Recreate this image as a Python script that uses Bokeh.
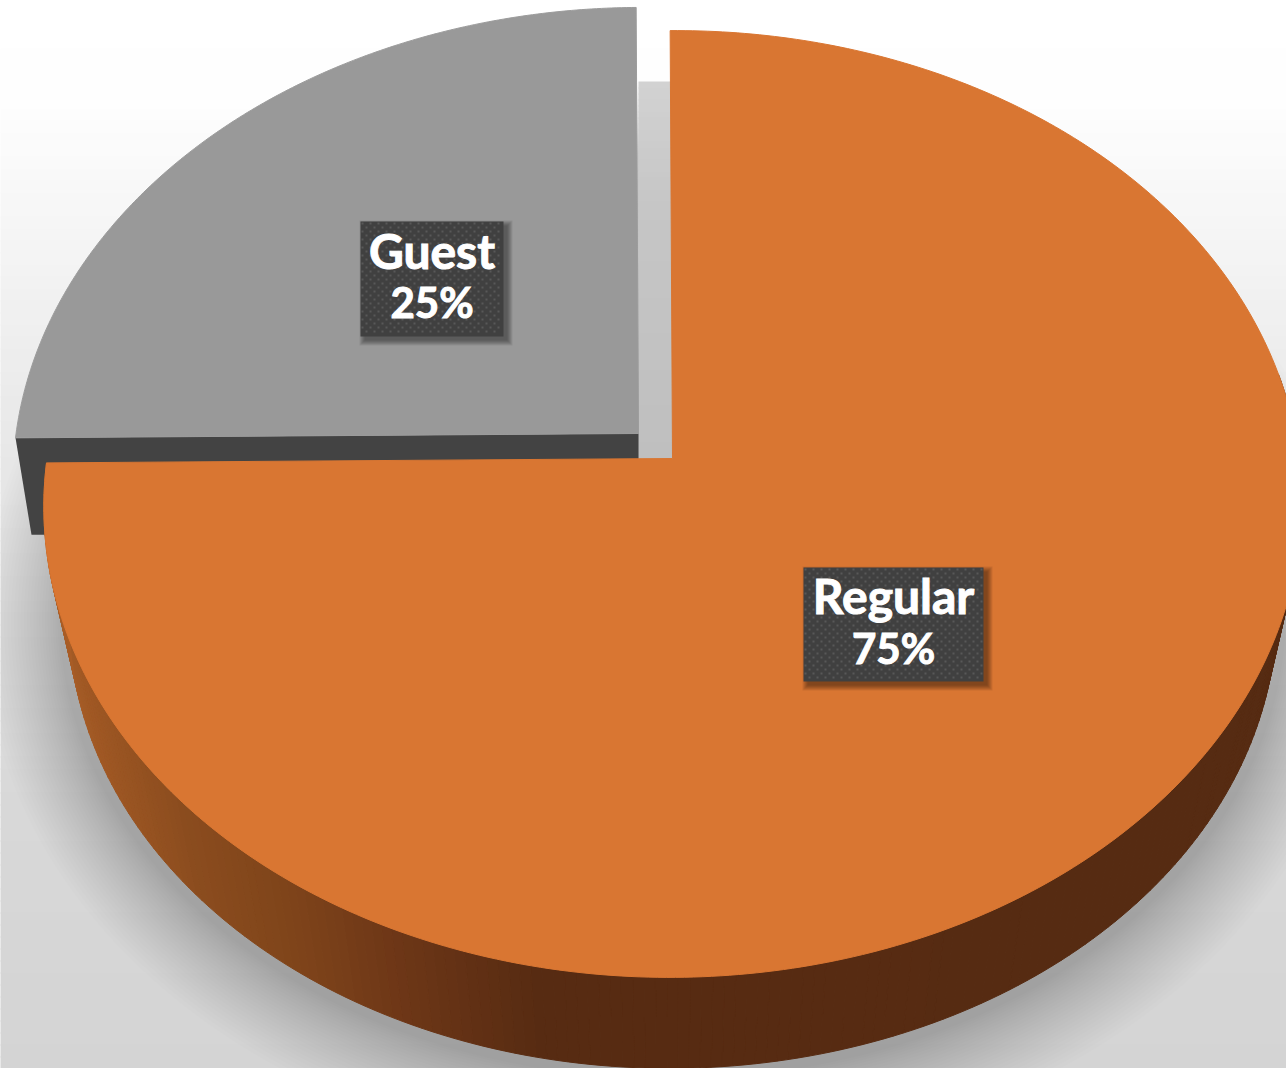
import math
from bokeh.plotting import figure
from bokeh.models import Range1d
from bokeh.core.properties import value
from bokeh.embed import file_html
from bokeh.resources import INLINE

categories = ["Regular", "Guest"]
shares = [75, 25]
slice_colors = ["#D97632", "#999999"]
box_color = "#404040"
dot_color = "#585858"
text_color = "#FFFFFF"
label_centers = [(893, 624), (431.5, 278.5)]
label_sizes = [(180, 114), (143, 115)]

p = figure(width=1286, height=1068, x_range=Range1d(0, 1286), y_range=Range1d(1068, 0),
           output_backend="svg", toolbar_location=None, min_border=0)
p.axis.visible = False
p.grid.visible = False
p.outline_line_color = None
p.background_fill_color = "#FFFFFF"
p.border_fill_color = None

TILT = 0.0055
PERSP = 0.0961


def project(deg, x0, y0, rx, ry):
    t = math.radians(deg)
    u, v = math.sin(t), -math.cos(t)
    w = 1 - PERSP * v
    x, y = x0 + rx * u / w, y0 + ry * v / w
    return x + TILT * (y - y0), y + 0.007 * (x0 - x)


def arc(a0, a1, x0, y0, rx, ry, n=180):
    pts = [project(a0 + (a1 - a0) * i / n, x0, y0, rx, ry) for i in range(n + 1)]
    return [q[0] for q in pts], [q[1] for q in pts]


def mix(c0, c1, f):
    a = [int(c0[i:i + 2], 16) for i in (1, 3, 5)]
    b = [int(c1[i:i + 2], 16) for i in (1, 3, 5)]
    return "#%02X%02X%02X" % tuple(round(a[i] + (b[i] - a[i]) * f) for i in range(3))


def ramp(x, stops):
    if x <= stops[0][0]:
        return stops[0][1]
    for (x0, c0), (x1, c1) in zip(stops, stops[1:]):
        if x <= x1:
            return mix(c0, c1, (x - x0) / (x1 - x0))
    return stops[-1][1]


# slice angles come from the values (clockwise from twelve o'clock)
total = sum(shares)
a_reg = (0, 360 * shares[0] / total)
a_gue = (a_reg[1], 360)

# geometry of the tilted discs
REG = dict(x0=672, y0=458, rx=626, ry=469)
REG_B = dict(x0=672, y0=570, rx=601, ry=450)
GUE = dict(x0=638, y0=433, rx=623, ry=467)
GUE_B = dict(x0=638, y0=530, rx=607, ry=450)

# page background
bg_stops = [(0, "#FFFFFF"), (90, "#FEFEFE"), (400, "#EAEAEA"), (800, "#D8D8D8"), (1068, "#D4D4D4")]
for y in range(0, 1068, 12):
    c = ramp(y, bg_stops)
    p.quad(left=-6, right=1292, top=y, bottom=y + 13, fill_color=c, line_color=None)

# soft shadow of the pie: full discs, widest and faintest first
N = 26
for k in range(N):
    d = 78 * (1 - k / N) ** 1.2 + 8
    xs, ys = arc(0, 360, REG_B["x0"], REG_B["y0"], REG_B["rx"] + d, REG_B["ry"] + d, n=240)
    p.patch(xs, ys, fill_color="#000000", fill_alpha=0.0085, line_color=None)

# lit back wall in the gap between the slices
for y in range(81, 458, 6):
    c = ramp(y, [(81, "#D2D2D2"), (200, "#C6C6C6"), (458, "#BFBFBF")])
    p.quad(left=638, right=672, top=y, bottom=min(y + 7, 459), fill_color=c, line_color=None)

# Guest slice: wall then top
gl = project(a_gue[0], **GUE)
gb = project(a_gue[0], **GUE_B)
p.patch([gl[0], GUE["x0"], GUE["x0"], gb[0]], [gl[1], GUE["y0"], gb[1], gb[1]],
        fill_color="#434343", line_color=None)
xs, ys = arc(a_gue[0], a_gue[1], **GUE)
p.patch(xs + [GUE["x0"]], ys + [GUE["y0"]], fill_color=slice_colors[1], line_color="#9C9C9C", line_width=1)

# Regular slice: shaded outer wall then top
wall_stops = [(45, "#B2622A"), (90, "#A35A25"), (200, "#8B4C1E"), (300, "#7F441A"),
              (400, "#6E3717"), (540, "#572B12"), (1300, "#562B12")]
n_wall = 200
for i in range(n_wall):
    a0 = 80 + 190 * i / n_wall
    a1 = 80 + 190 * (i + 1) / n_wall
    t0, t1 = project(a0, **REG), project(a1, **REG)
    b0, b1 = project(a0, **REG_B), project(a1, **REG_B)
    c = ramp((b0[0] + b1[0]) / 2, wall_stops)
    p.patch([t0[0], t1[0], b1[0], b0[0]], [t0[1], t1[1], b1[1], b0[1]],
            fill_color=c, line_color=c, line_width=1)

xs, ys = arc(a_reg[0], a_reg[1], n=360, **REG)
p.patch(xs + [REG["x0"]], ys + [REG["y0"]], fill_color=slice_colors[0], line_color=slice_colors[0], line_width=1)

# data labels
for cat, share, (cx, cy), (bw, bh) in zip(categories, shares, label_centers, label_sizes):
    l, r, t, b = cx - bw / 2, cx + bw / 2, cy - bh / 2, cy + bh / 2
    for k in range(6):
        e = 5 - k
        p.quad(left=l + 4 - e, right=r + 4 + e, top=t + 4 - e, bottom=b + 4 + e,
               fill_color="#000000", fill_alpha=0.08, line_color=None)
    p.quad(left=l, right=r, top=t, bottom=b, fill_color=box_color, line_color=None)
    dx, dy = [], []
    row = 0
    y = t + 2
    while y < b - 1:
        x = l + (2 if row % 2 == 0 else 6)
        while x < r - 1:
            dx.append(x)
            dy.append(y)
            x += 8
        y += 4
        row += 1
    p.scatter(dx, dy, marker="square", size=2, fill_color=dot_color, line_color=None)
    p.text([cx], [cy - 11 - 18], text=[cat], text_color=text_color, text_font=value("Lato"),
           text_font_style="bold", text_font_size="48px", text_align="center", text_baseline="alphabetic",
           text_outline_color=text_color)
    p.text([cx], [cy + 42 - 19], text=[f"{share}%"], text_color=text_color, text_font=value("Lato"),
           text_font_style="bold", text_font_size="42px", text_align="center", text_baseline="alphabetic",
           text_outline_color=text_color)

open("out.html", "w").write(file_html(p, INLINE))
